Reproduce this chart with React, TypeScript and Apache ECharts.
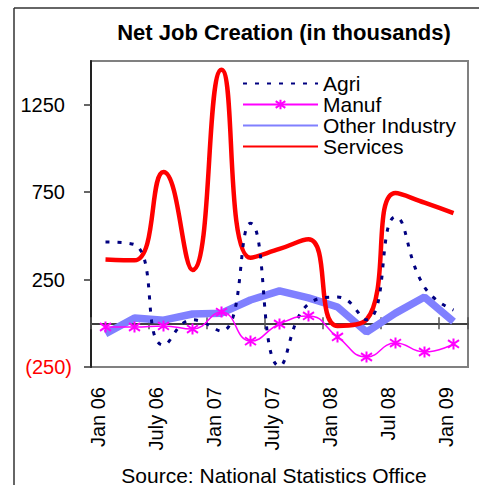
import React, { useEffect, useRef } from "react";
import * as echarts from "echarts";

const categories = [
  "Jan 06", "Apr 06", "July 06", "Oct 06", "Jan 07", "Apr 07", "July 07",
  "Oct 07", "Jan 08", "Apr 08", "Jul 08", "Oct 08", "Jan 09",
];
const agri = [465, 450, -125, 20, -45, 572, -245, 110, 150, 20, 608, 207, 76];
const manuf = [-21, -21, -15, -33, 64, -102, -4, 42, -78, -193, -113, -164, -118];
const otherIndustry = [-60, 30, 18, 53, 58, 133, 185, 145, 93, -50, 58, 150, 10];
const services = [365, 360, 865, 305, 1450, 375, 425, 480, -15, 20, 745, 690, 630];
const yTicks = [-250, 250, 750, 1250];

const FONT = "'Liberation Sans', Arial, sans-serif";
const ASTERISK = "path://M5 0L5 10M0.8 1.5L9.2 8.5M0.8 8.5L9.2 1.5";

export default function App() {
  const ref = useRef<HTMLDivElement>(null);
  useEffect(() => {
    if (!ref.current) return;
    const chart = echarts.init(ref.current, undefined, { renderer: "svg" });
    const zeroAxisBase = {
      type: "category" as const,
      data: categories,
      position: "bottom" as const,
      boundaryGap: true,
      axisLabel: { show: false },
      splitLine: { show: false },
    };
    chart.setOption({
      animation: false,
      backgroundColor: "#ffffff",
      textStyle: { fontFamily: FONT },
      grid: {
        left: 91,
        right: 11,
        top: 61,
        bottom: 118,
        show: true,
        borderColor: "#808080",
        borderWidth: 2,
        backgroundColor: "transparent",
      },
      legend: {
        orient: "vertical",
        left: 242,
        top: 73,
        padding: 0,
        itemWidth: 75,
        itemHeight: 12,
        itemGap: 0,
        textStyle: { fontSize: 21, lineHeight: 21, color: "#000", fontFamily: FONT },
        data: [
          { name: "Agri", itemStyle: { opacity: 0 } },
          { name: "Manuf" },
          { name: "Other Industry", itemStyle: { opacity: 0 } },
          { name: "Services", itemStyle: { opacity: 0 } },
        ],
      },
      xAxis: [
        {
          ...zeroAxisBase,
          axisLine: { show: true, onZero: true, onZeroAxisIndex: 0, lineStyle: { color: "#333", width: 1.5 } },
          axisTick: { show: true, inside: false, length: 6, lineStyle: { color: "#555", width: 1.5 } },
        },
        {
          ...zeroAxisBase,
          axisLine: { show: true, onZero: true, onZeroAxisIndex: 0, lineStyle: { color: "#333", width: 1.5 } },
          axisTick: { show: true, inside: true, length: 6, lineStyle: { color: "#555", width: 1.5 } },
        },
        {
          type: "category",
          data: categories,
          position: "bottom",
          boundaryGap: true,
          axisLine: { show: false, onZero: false },
          axisTick: { show: false },
          splitLine: { show: false },
          axisLabel: {
            show: true,
            interval: 1,
            rotate: 90,
            margin: 20,
            fontSize: 20,
            color: "#000",
            fontFamily: FONT,
            verticalAlign: "bottom",
            lineHeight: 16,
          },
        },
      ],
      yAxis: {
        type: "value",
        min: -250,
        max: 1500,
        splitLine: { show: false },
        axisLine: { show: true, lineStyle: { color: "#222", width: 2 } },
        axisTick: { show: true, length: 7, lineStyle: { color: "#333", width: 1.5 }, customValues: yTicks },
        axisLabel: {
          customValues: yTicks,
          margin: 19,
          formatter: (v: number) => (v < 0 ? `{n|(${Math.abs(v)})}` : `{p|${v}}`),
          rich: {
            p: { fontSize: 20, color: "#000", padding: [0, 7, 0, 0], fontFamily: FONT },
            n: { fontSize: 20, color: "#ff0000", fontFamily: FONT },
          },
        },
      },
      series: [
        {
          name: "Agri",
          type: "line",
          data: agri,
          smooth: 0.5,
          symbol: "none",
          z: 4,
          itemStyle: { color: "#000080" },
          lineStyle: { color: "#000080", width: 3, type: [4, 8] },
        },
        {
          name: "Manuf",
          type: "line",
          data: manuf,
          smooth: 0.5,
          symbol: ASTERISK,
          symbolSize: 11,
          z: 5,
          itemStyle: { color: "#ff00ff", borderColor: "#ff00ff", borderWidth: 2 },
          lineStyle: { color: "#ff00ff", width: 1.5 },
        },
        {
          name: "Other Industry",
          type: "line",
          data: otherIndustry,
          smooth: false,
          symbol: "none",
          z: 2,
          itemStyle: { color: "#8080ff" },
          lineStyle: { color: "#8080ff", width: 7.5 },
        },
        {
          name: "Services",
          type: "line",
          data: services,
          smooth: 0.5,
          symbol: "none",
          z: 3,
          itemStyle: { color: "#ff0000" },
          lineStyle: { color: "#ff0000", width: 4.5 },
        },
      ],
      graphic: [
        { type: "line", shape: { x1: 14, y1: 8, x2: 14, y2: 485 }, style: { stroke: "#333", lineWidth: 1.5 } },
        { type: "line", shape: { x1: 14, y1: 8, x2: 479, y2: 8 }, style: { stroke: "#333", lineWidth: 1.5 } },
        {
          type: "text",
          x: 284,
          y: 32,
          style: {
            text: "Net Job Creation (in thousands)",
            font: `bold 22px ${FONT}`,
            fill: "#000",
            textAlign: "center",
            textVerticalAlign: "middle",
          },
        },
        {
          type: "text",
          x: 274,
          y: 475,
          style: {
            text: "Source: National Statistics Office",
            font: `21px ${FONT}`,
            fill: "#000",
            textAlign: "center",
            textVerticalAlign: "middle",
          },
        },
      ],
    });
    return () => chart.dispose();
  }, []);
  return (
    <div
      ref={ref}
      style={{ position: "fixed", left: 0, top: 0, width: 479, height: 485, background: "#fff" }}
    />
  );
}
